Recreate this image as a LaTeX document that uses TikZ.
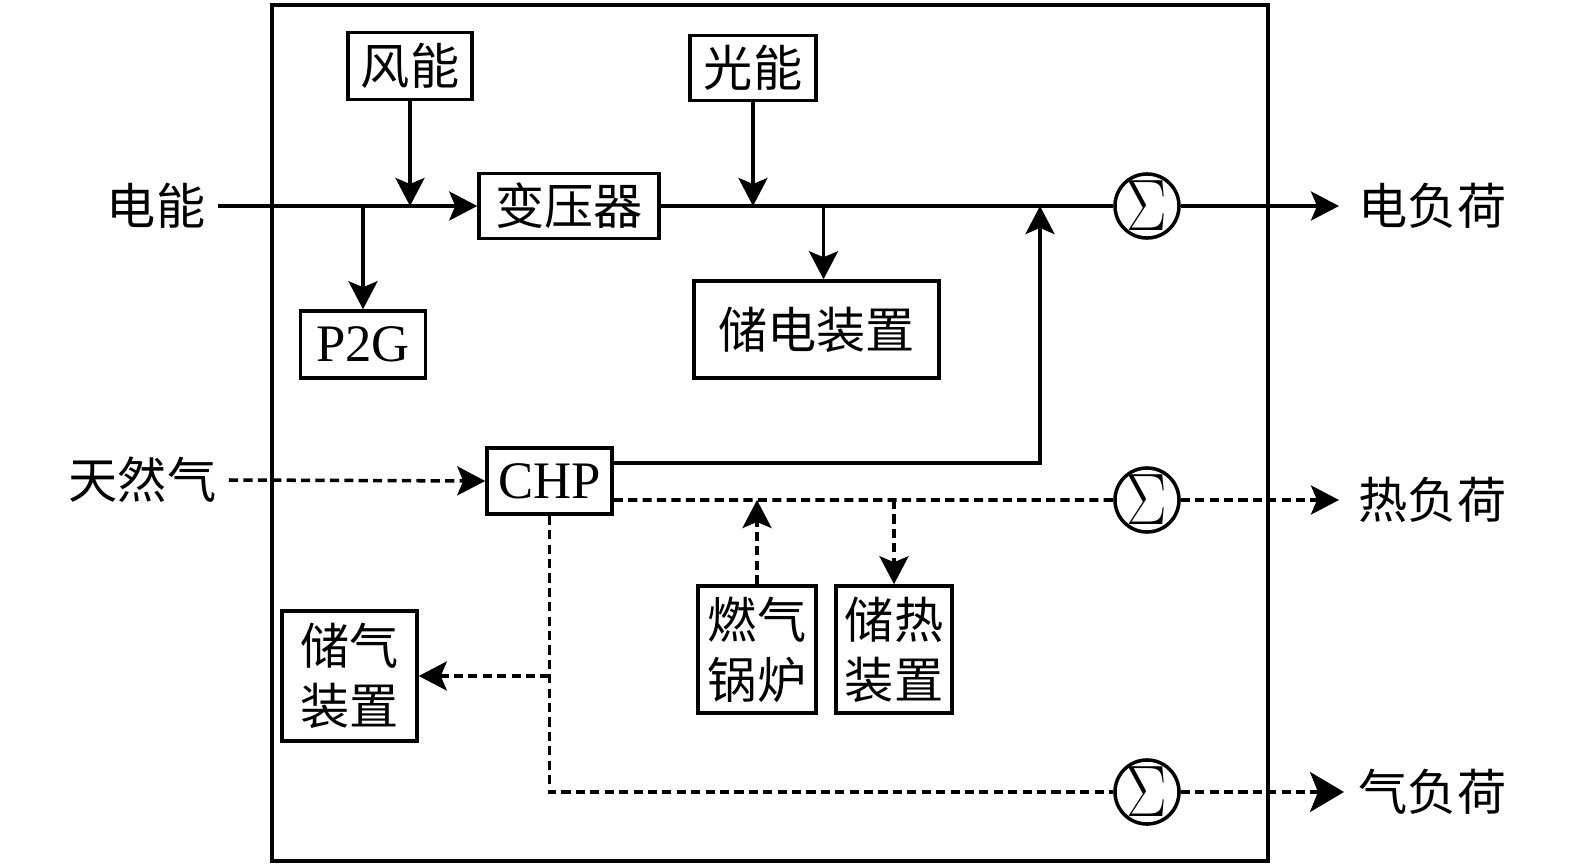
\documentclass[tikz,border=0pt]{standalone}
\usepackage{fontspec}
\setmainfont{Liberation Serif}
\newfontfamily\cjk{Noto Sans CJK SC}
\usetikzlibrary{arrows.meta}
\tikzset{
  block/.style  ={rectangle, draw=black, line width=1pt, align=center,
                  inner sep=0pt, font=\cjk\fontsize{14}{17}\selectfont},
  enblock/.style={block, font=\fontsize{15}{17}\selectfont},
  sumnode/.style={circle, draw=black, line width=1pt, minimum size=6.3mm,
                  inner sep=0pt, font=\fontsize{17}{17}\selectfont},
  flow/.style   ={-{Stealth[length=2.8mm,width=2.9mm,inset=0.6mm]}, line width=1pt},
  hflow/.style  ={flow, dash pattern=on 2.6pt off 1.5pt},
  link/.style   ={line width=1pt},
  hlink/.style  ={link, dash pattern=on 2.6pt off 1.5pt},
  lbl/.style    ={font=\cjk\fontsize{14}{17}\selectfont, inner sep=1.2mm},
}
\newcommand{\sumsign}{\scalebox{1}[1.2]{$\Sigma$}}

\begin{document}
\begin{tikzpicture}
    \useasboundingbox (0,0) rectangle (15.75,-8.66);
    % frame
    \draw[link] (2.72,-0.05) rectangle (12.68,-8.61);

    % sources and devices
    \node[block, minimum width=12.4mm, minimum height=6.7mm] (wind)  at (4.10,-0.66)  {风能};
    \node[block, minimum width=12.6mm, minimum height=6.5mm] (pv)    at (7.53,-0.68)  {光能};
    \node[block, minimum width=18.0mm, minimum height=6.5mm] (trans) at (5.69,-2.06)  {变压器};
    \node[enblock, minimum width=12.5mm, minimum height=6.7mm] (p2g) at (3.63,-3.445) {P2G};
    \node[block, minimum width=24.5mm, minimum height=9.7mm] (ees)   at (8.165,-3.295) {储电装置};
    \node[enblock, minimum width=12.5mm, minimum height=6.6mm] (chp) at (5.495,-4.81) {CHP};
    \node[block, minimum width=11.8mm, minimum height=12.7mm] (gb)   at (7.57,-6.495) {燃气\\锅炉};
    \node[block, minimum width=11.6mm, minimum height=12.7mm] (tes)  at (8.94,-6.495) {储热\\装置};
    \node[block, minimum width=13.5mm, minimum height=13.0mm] (gs)   at (3.495,-6.76) {储气\\装置};

    % summing points
    \node[sumnode] (sume) at (11.47,-2.06) {\sumsign};
    \node[sumnode] (sumh) at (11.47,-5.00) {\sumsign};
    \node[sumnode] (sumg) at (11.47,-7.92) {\sumsign};

    % inputs and loads
    \node[lbl, anchor=east] (ein)  at (2.18,-2.06) {电能};
    \node[lbl, anchor=east] (gin)  at (2.29,-4.80) {天然气};
    \node[lbl, anchor=west, inner xsep=1.9mm] (eout) at (13.39,-2.06) {电负荷};
    \node[lbl, anchor=west, inner xsep=1.9mm] (hout) at (13.39,-5.00) {热负荷};
    \node[lbl, anchor=west, inner xsep=1.4mm] (gout) at (13.44,-7.92) {气负荷};

    % electricity
    \draw[flow] (ein.east) -- (trans.west);
    \draw[flow] (wind.south) -- (wind.south |- trans.west);
    \draw[flow] (p2g.north |- trans.west) -- (p2g.north);
    \draw[flow] (pv.south) -- (pv.south |- trans.east);
    \draw[link] (trans.east) -- (sume.west);
    \coordinate (eesin) at ([xshift=0.7mm]ees.north);
    \draw[flow] (eesin |- trans.east) -- (eesin);
    \coordinate (chpin) at (10.40,-2.06);
    \draw[flow] ([yshift=1.8mm]chp.east) -| (chpin);
    \draw[flow] (sume.east) -- (eout.west);

    % heat
    \draw[hflow] (gin.east) -- (chp.west);
    \draw[hlink] ([yshift=-1.9mm]chp.east) -- (sumh.west);
    \draw[hflow] (gb.north) -- (gb.north |- sumh.west);
    \draw[hflow] (tes.north |- sumh.west) -- (tes.north);
    \draw[hflow] (sumh.east) -- (hout.west);

    % gas
    \draw[hlink] (chp.south) |- (sumg.west);
    \coordinate (gsj) at (chp.south |- gs.east);
    \draw[hflow] (gsj) -- (gs.east);
    \draw[hlink, -{Stealth[length=3.4mm,width=4mm,inset=0.8mm]}] (sumg.east) -- (gout.west);
\end{tikzpicture}
\end{document}
